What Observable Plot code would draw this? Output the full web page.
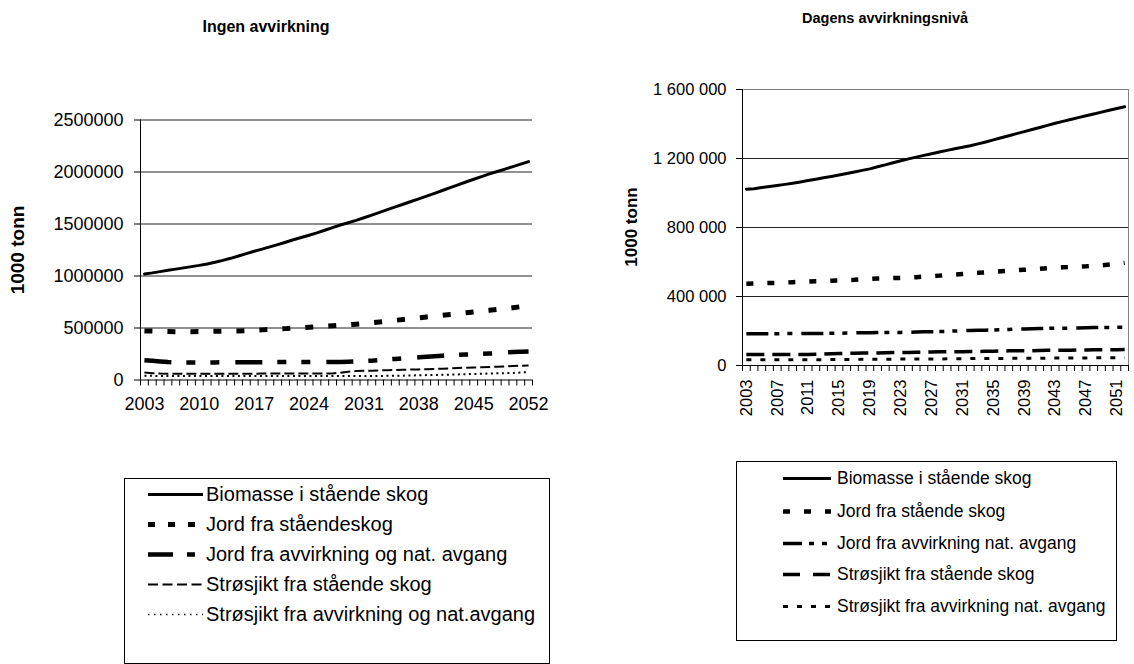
<!DOCTYPE html>
<html>
<head>
<meta charset="utf-8">
<script src="https://cdn.jsdelivr.net/npm/d3@7"></script>
<script src="https://cdn.jsdelivr.net/npm/@observablehq/plot@0.6"></script>
<style>
  body { margin: 0; background: #fff; font-family: "Liberation Sans", Arial, sans-serif; color: #000; }
  #page { position: relative; width: 1134px; height: 664px; overflow: hidden; background: #fff; }
  .abs { position: absolute; }
  .title { position: absolute; transform: translate(-50%, -50%); font-weight: bold; white-space: nowrap; }
  .ylab { position: absolute; transform: translate(-50%, -50%) rotate(-90deg); font-weight: bold; white-space: nowrap; }
  .legend { position: absolute; border: 1px solid #000; background: #fff; box-sizing: border-box; }
  .row { position: absolute; display: flex; align-items: center; white-space: nowrap; transform: translateY(-50%); }
  .row svg { display: block; }
</style>
</head>
<body>
<div id="page"></div>
<script>
// Years on the category axis
const years = [2003, 2004, 2005, 2006, 2007, 2008, 2009, 2010, 2011, 2012,
  2013, 2014, 2015, 2016, 2017, 2018, 2019, 2020, 2021, 2022,
  2023, 2024, 2025, 2026, 2027, 2028, 2029, 2030, 2031, 2032,
  2033, 2034, 2035, 2036, 2037, 2038, 2039, 2040, 2041, 2042,
  2043, 2044, 2045, 2046, 2047, 2048, 2049, 2050, 2051, 2052];

// ---- Ingen avvirkning (1000 tonn) ----
const leftNames = ["Biomasse i stående skog", "Jord fra ståendeskog", "Jord fra avvirkning og nat. avgang",
  "Strøsjikt fra stående skog", "Strøsjikt fra avvirkning og nat.avgang"];
const leftBiomasse = [1020000, 1030000, 1042000, 1055000, 1066000, 1078000, 1090000, 1102000, 1116000, 1132000,
  1150000, 1170000, 1192000, 1215000, 1238000, 1258000, 1280000, 1302000, 1325000, 1348000,
  1370000, 1392000, 1415000, 1440000, 1465000, 1490000, 1512000, 1535000, 1560000, 1586000,
  1612000, 1638000, 1664000, 1690000, 1716000, 1742000, 1768000, 1795000, 1822000, 1850000,
  1877000, 1904000, 1930000, 1956000, 1982000, 2005000, 2028000, 2052000, 2076000, 2100000];
const leftJordStaaende = [472000, 470000, 468000, 466000, 465000, 465000, 465000, 466000, 467000, 468000,
  469000, 470000, 472000, 475000, 478000, 482000, 486000, 490000, 494000, 498000,
  502000, 507000, 512000, 517000, 522000, 527000, 532000, 537000, 543000, 550000,
  558000, 566000, 574000, 582000, 590000, 598000, 606000, 614000, 622000, 630000,
  638000, 646000, 654000, 662000, 670000, 678000, 686000, 695000, 705000, 715000];
const leftJordAvvirkning = [190000, 185000, 178000, 172000, 169000, 168000, 168000, 168000, 169000, 169000,
  170000, 170000, 170000, 170000, 171000, 171000, 171000, 172000, 172000, 172000,
  172000, 172000, 172000, 172000, 172000, 174000, 176000, 178000, 182000, 186000,
  192000, 198000, 203000, 208000, 213000, 218000, 224000, 229000, 234000, 238000,
  242000, 245000, 248000, 251000, 254000, 258000, 264000, 269000, 272000, 274000];
const leftStroStaaende = [72000, 66000, 62000, 60000, 60000, 60000, 60000, 60000, 60000, 61000,
  61000, 61000, 61000, 61000, 61000, 62000, 62000, 62000, 62000, 62000,
  62000, 62000, 62000, 62000, 63000, 70000, 80000, 86000, 88000, 90000,
  92000, 94000, 96000, 98000, 100000, 102000, 104000, 106000, 109000, 112000,
  115000, 118000, 120000, 122000, 125000, 128000, 131000, 134000, 137000, 140000];
const leftStroAvvirkning = [42000, 40000, 39000, 38000, 38000, 38000, 38000, 38000, 38000, 38000,
  38000, 38000, 38000, 38000, 38000, 38000, 38000, 38000, 38000, 38000,
  38000, 38000, 38000, 38000, 38000, 38000, 38000, 38000, 38000, 38000,
  39000, 40000, 41000, 42000, 44000, 45000, 47000, 48000, 50000, 52000,
  54000, 56000, 58000, 60000, 62000, 64000, 66000, 68000, 72000, 76000];
const leftYTicks = [0, 500000, 1000000, 1500000, 2000000, 2500000];
const leftXLabels = [2003, 2010, 2017, 2024, 2031, 2038, 2045, 2052];

// ---- Dagens avvirkningsnivå (1000 tonn) ----
const rightNames = ["Biomasse i stående skog", "Jord fra stående skog", "Jord fra avvirkning nat. avgang",
  "Strøsjikt fra stående skog", "Strøsjikt fra avvirkning nat. avgang"];
const rightBiomasse = [1022000, 1025000, 1032000, 1038000, 1044000, 1050000, 1057000, 1064000, 1072000, 1080000,
  1088000, 1096000, 1104000, 1113000, 1122000, 1131000, 1140000, 1152000, 1163000, 1175000,
  1187000, 1198000, 1208000, 1218000, 1228000, 1238000, 1247000, 1256000, 1265000, 1274000,
  1285000, 1296000, 1308000, 1320000, 1332000, 1344000, 1356000, 1368000, 1380000, 1392000,
  1404000, 1415000, 1426000, 1437000, 1448000, 1458000, 1469000, 1480000, 1490000, 1500000];
const rightJordStaaende = [474000, 475000, 477000, 478000, 479000, 481000, 483000, 485000, 487000, 489000,
  491000, 492000, 493000, 495000, 497000, 500000, 502000, 504000, 505000, 507000,
  508000, 510000, 512000, 515000, 518000, 521000, 524000, 527000, 530000, 533000,
  537000, 540000, 543000, 546000, 549000, 552000, 555000, 558000, 561000, 564000,
  567000, 569000, 571000, 573000, 575000, 578000, 581000, 585000, 590000, 595000];
const rightJordAvvirkning = [184000, 184000, 184000, 184000, 184000, 185000, 185000, 185000, 186000, 186000,
  186000, 187000, 187000, 188000, 189000, 190000, 190000, 191000, 191000, 192000,
  192000, 193000, 194000, 195000, 196000, 197000, 198000, 200000, 202000, 203000,
  204000, 205000, 206000, 207000, 209000, 211000, 212000, 213000, 214000, 215000,
  216000, 216000, 217000, 218000, 219000, 220000, 221000, 221000, 222000, 222000];
const rightStroStaaende = [64000, 64000, 64000, 64000, 64000, 64000, 64000, 64000, 64000, 65000,
  66000, 68000, 69000, 70000, 71000, 72000, 72000, 73000, 74000, 75000,
  75000, 76000, 77000, 77000, 78000, 79000, 79000, 80000, 80000, 81000,
  81000, 82000, 83000, 84000, 85000, 85000, 86000, 86000, 87000, 88000,
  88000, 89000, 89000, 90000, 90000, 91000, 91000, 92000, 92000, 93000];
const rightStroAvvirkning = [33000, 33000, 33000, 33000, 33000, 33000, 33000, 34000, 34000, 34000,
  34000, 35000, 35000, 35000, 35000, 36000, 36000, 36000, 36000, 37000,
  37000, 37000, 38000, 38000, 38000, 38000, 39000, 39000, 39000, 40000,
  40000, 40000, 41000, 41000, 41000, 42000, 42000, 42000, 42000, 43000,
  43000, 43000, 44000, 44000, 44000, 44000, 45000, 45000, 45000, 45000];
const rightYTicks = [0, 400000, 800000, 1200000, 1600000];
const rightXLabels = [2003, 2007, 2011, 2015, 2019, 2023, 2027, 2031, 2035, 2039, 2043, 2047, 2051];

// Stroke styles for the five series in each panel (line dash, and the dash used in the key)
const leftStyles = [
  {width: 3, dash: null, keyDash: null},
  {width: 5, dash: "8,15", keyDash: "7,13"},
  {width: 4.5, dash: "27,15,9,15,9,16", keyDash: "25,14,8,20"},
  {width: 2, dash: "10,4", keyDash: "10,4.5"},
  {width: 2, dash: "2,3.5", keyDash: "1.5,4.5", keyWidth: 1.5}
];
const rightStyles = [
  {width: 3, dash: null, keyDash: null},
  {width: 4.5, dash: "7,14", keyDash: "7,14"},
  {width: 3.5, dash: "22,6,5,8,5,9", keyDash: "19,7,5,8,5,10"},
  {width: 3.5, dash: "18,8", keyDash: "17,13"},
  {width: 3, dash: "5,9", keyDash: "5,9"}
];

const page = document.getElementById("page");

function toRows(values) {
  return years.map((year, i) => ({year, value: values[i]}));
}

function panel(cfg) {
  // category boundaries where the small ticks sit
  const bounds = years.map(y => y - 0.5).concat([years[years.length - 1] + 0.5]);
  const marks = [];
  if (cfg.frame) marks.push(Plot.frame({stroke: "#808080"}));
  marks.push(Plot.ruleY(cfg.gridTicks, {stroke: "#222", strokeWidth: 1}));
  cfg.series.forEach((vals, i) => {
    const st = cfg.styles[i];
    marks.push(Plot.line(toRows(vals), {
      x: "year", y: "value", stroke: "#000",
      strokeWidth: st.width,
      strokeDasharray: st.dash || undefined,
      strokeLinecap: st.dash ? "butt" : "round",
      strokeLinejoin: "round"
    }));
  });
  marks.push(Plot.ruleX([bounds[0]], {stroke: "#000"}));
  marks.push(Plot.ruleY([0], {stroke: "#000"}));
  marks.push(Plot.axisY({ticks: cfg.yTicks, tickFormat: cfg.yFormat, tickSize: cfg.yTickSize,
    tickPadding: cfg.yTickPadding, label: null, fontSize: cfg.fontSize}));
  marks.push(Plot.axisX({ticks: bounds, tickFormat: () => "", tickSize: 6, label: null}));
  marks.push(Plot.axisX({ticks: cfg.xLabels, tickFormat: d => String(d), tickSize: 0,
    tickPadding: cfg.xTickPadding, tickRotate: cfg.rotate || 0, label: null, fontSize: cfg.fontSize}));
  return Plot.plot({
    width: cfg.width, height: cfg.height,
    marginLeft: cfg.ml, marginRight: cfg.mr, marginTop: cfg.mt, marginBottom: cfg.mb,
    x: {type: "linear", domain: [bounds[0], bounds[bounds.length - 1]]},
    y: {type: "linear", domain: cfg.yDomain},
    style: {fontFamily: "'Liberation Sans', Arial, sans-serif", fontSize: cfg.fontSize + "px",
      color: "#000", background: "transparent", overflow: "visible"},
    marks
  });
}

function place(el, left, top) {
  const wrap = document.createElement("div");
  wrap.className = "abs";
  wrap.style.left = left + "px";
  wrap.style.top = top + "px";
  wrap.appendChild(el);
  page.appendChild(wrap);
}

function addText(cls, text, x, y, size) {
  const d = document.createElement("div");
  d.className = cls;
  d.textContent = text;
  d.style.left = x + "px";
  d.style.top = y + "px";
  d.style.fontSize = size + "px";
  page.appendChild(d);
}

function legend(box, names, styles, rowsY, sampleX, sampleW, textGap, size) {
  const lg = document.createElement("div");
  lg.className = "legend";
  Object.assign(lg.style, {left: box.x + "px", top: box.y + "px", width: box.w + "px", height: box.h + "px"});
  names.forEach((name, i) => {
    const st = styles[i];
    const row = document.createElement("div");
    row.className = "row";
    row.style.left = sampleX + "px";
    row.style.top = rowsY[i] + "px";
    row.style.fontSize = size + "px";
    const svg = d3.create("svg").attr("width", sampleW + textGap).attr("height", 12);
    svg.append("line").attr("x1", 0).attr("x2", sampleW).attr("y1", 6).attr("y2", 6)
      .attr("stroke", "#000").attr("stroke-width", st.keyWidth || st.width)
      .attr("stroke-dasharray", st.keyDash)
      .attr("stroke-linecap", "butt");
    row.appendChild(svg.node());
    const t = document.createElement("span");
    t.textContent = name;
    row.appendChild(t);
    lg.appendChild(row);
  });
  page.appendChild(lg);
}

// Left panel: Ingen avvirkning
place(panel({
  width: 567, height: 440, ml: 140, mr: 35, mt: 119.5, mb: 60.5,
  yDomain: [0, 2500000], yTicks: leftYTicks, gridTicks: leftYTicks.filter(t => t > 0),
  yFormat: d => String(d), yTickSize: 6, yTickPadding: 11,
  xLabels: leftXLabels, xTickPadding: 17, fontSize: 18,
  series: [leftBiomasse, leftJordStaaende, leftJordAvvirkning, leftStroStaaende, leftStroAvvirkning],
  styles: leftStyles, frame: false
}), 0, 0);

// Right panel: Dagens avvirkningsnivå
place(panel({
  width: 567, height: 440, ml: 175, mr: 6, mt: 89, mb: 75,
  yDomain: [0, 1600000], yTicks: rightYTicks, gridTicks: rightYTicks.filter(t => t > 0 && t < 1600000),
  yFormat: d => d3.format(",")(d).replace(/,/g, " "), yTickSize: 6, yTickPadding: 10,
  xLabels: rightXLabels, xTickPadding: 14, rotate: -90, fontSize: 16.5,
  series: [rightBiomasse, rightJordStaaende, rightJordAvvirkning, rightStroStaaende, rightStroAvvirkning],
  styles: rightStyles, frame: true
}), 567, 0);

addText("title", "Ingen avvirkning", 266, 27, 16);
addText("title", "Dagens avvirkningsnivå", 885, 18, 14.5);
addText("ylab", "1000 tonn", 18, 250, 19);
addText("ylab", "1000 tonn", 632, 227, 17);

legend({x: 124, y: 478, w: 426, h: 186}, leftNames, leftStyles,
  [15, 45, 75, 105, 135], 23, 55, 3, 20);
legend({x: 736, y: 461, w: 381, h: 180}, rightNames, rightStyles,
  [16, 49, 81, 112, 144], 46, 48, 6, 17.5);
</script>
</body>
</html>
